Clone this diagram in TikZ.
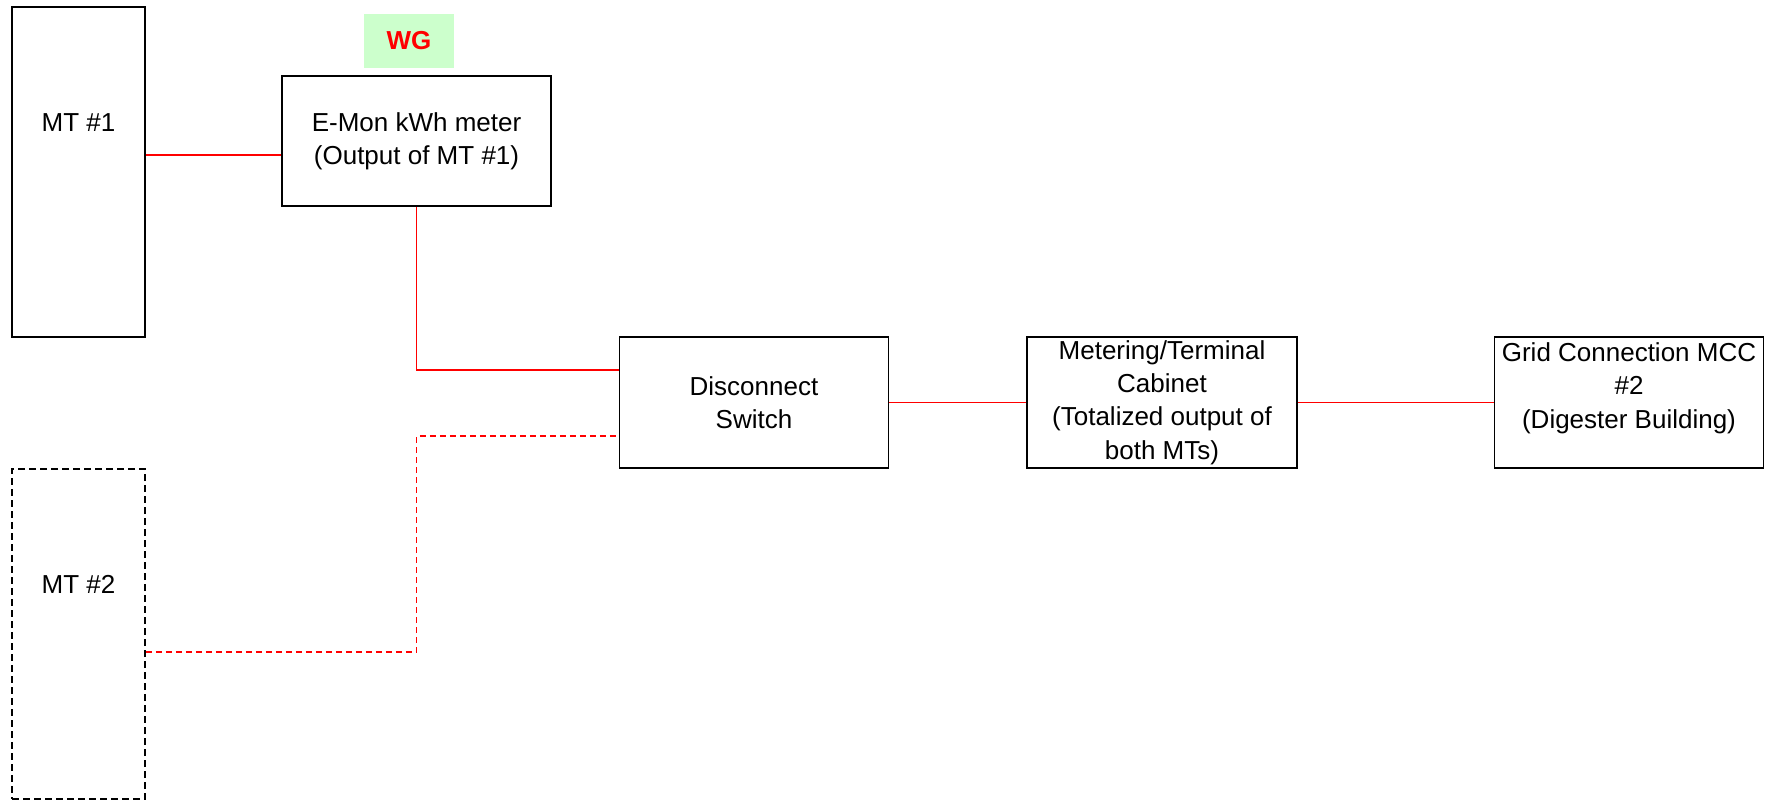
\documentclass[tikz,border=0pt]{standalone}
\usepackage{fontspec}
\setmainfont{Liberation Sans}
\usepackage{tikz}
\usetikzlibrary{positioning,calc}
\usepackage{xcolor}
\definecolor{wirered}{HTML}{FF0000}
\definecolor{tagfill}{HTML}{CCFFCC}

\begin{document}
\begin{tikzpicture}[x=0.5pt, y=-0.5pt,
    unitbox/.style={draw, line width=0.85pt, minimum width=134.5pt, minimum height=65.5pt,
        align=center, inner sep=0pt, font=\fontsize{13}{16.7}\selectfont},
    turbine/.style={draw, line width=0.85pt, minimum width=66.5pt, minimum height=165pt, inner sep=0pt},
    wire/.style={wirered, line width=0.75pt},
    wiredash/.style={wire, dash pattern=on 3pt off 2pt}]
        \useasboundingbox (0,0) rectangle (1774,800);

        % microturbines
        \node[turbine, label={[anchor=center, yshift=-58pt, font=\fontsize{13}{16.7}\selectfont]north:MT \#1}] (mtone) at (78.5,172) {};
        \node[turbine, dash pattern=on 3.5pt off 2pt, label={[anchor=center, yshift=-58pt, font=\fontsize{13}{16.7}\selectfont]north:MT \#2}] (mttwo) at (78.5,634) {};

        % meter of MT #1
        \node[fill=tagfill, minimum width=45pt, minimum height=27pt, text=wirered, font=\fontsize{13}{16}\selectfont\bfseries] (wg) at (409,41) {WG};
        \node[unitbox, minimum height=65pt] (emon) at (416.5,141) {E-Mon kWh meter\\(Output of MT \#1)};

        % switch, cabinet and grid
        \node[unitbox] (disc) at (754,402.5) {Disconnect\\Switch};
        \node[unitbox, minimum width=135pt] (meter) at (1162,402.5) {Metering/Terminal\\Cabinet\\(Totalized output of\\both MTs)};
        \node[unitbox, label={[anchor=center, yshift=7.25pt, align=center, font=\fontsize{13}{16.7}\selectfont]center:Grid Connection MCC\\\#2\\(Digester Building)}] (grid) at (1629,402.5) {};

        % wiring
        \draw[wire] ([yshift=8.5pt]mtone.east) -- ([yshift=8.5pt]mtone.east -| emon.west);
        \draw[wire] (emon.south) |- ([yshift=16.25pt]disc.west);
        \draw[wiredash] ([yshift=-9pt]mttwo.east) -- ([yshift=-9pt]mttwo.east -| emon.south) |- ([yshift=-16.75pt]disc.west);
        \draw[wire] (disc.east) -- (meter.west);
        \draw[wire] (meter.east) -- (grid.west);
    \end{tikzpicture}
\end{document}
